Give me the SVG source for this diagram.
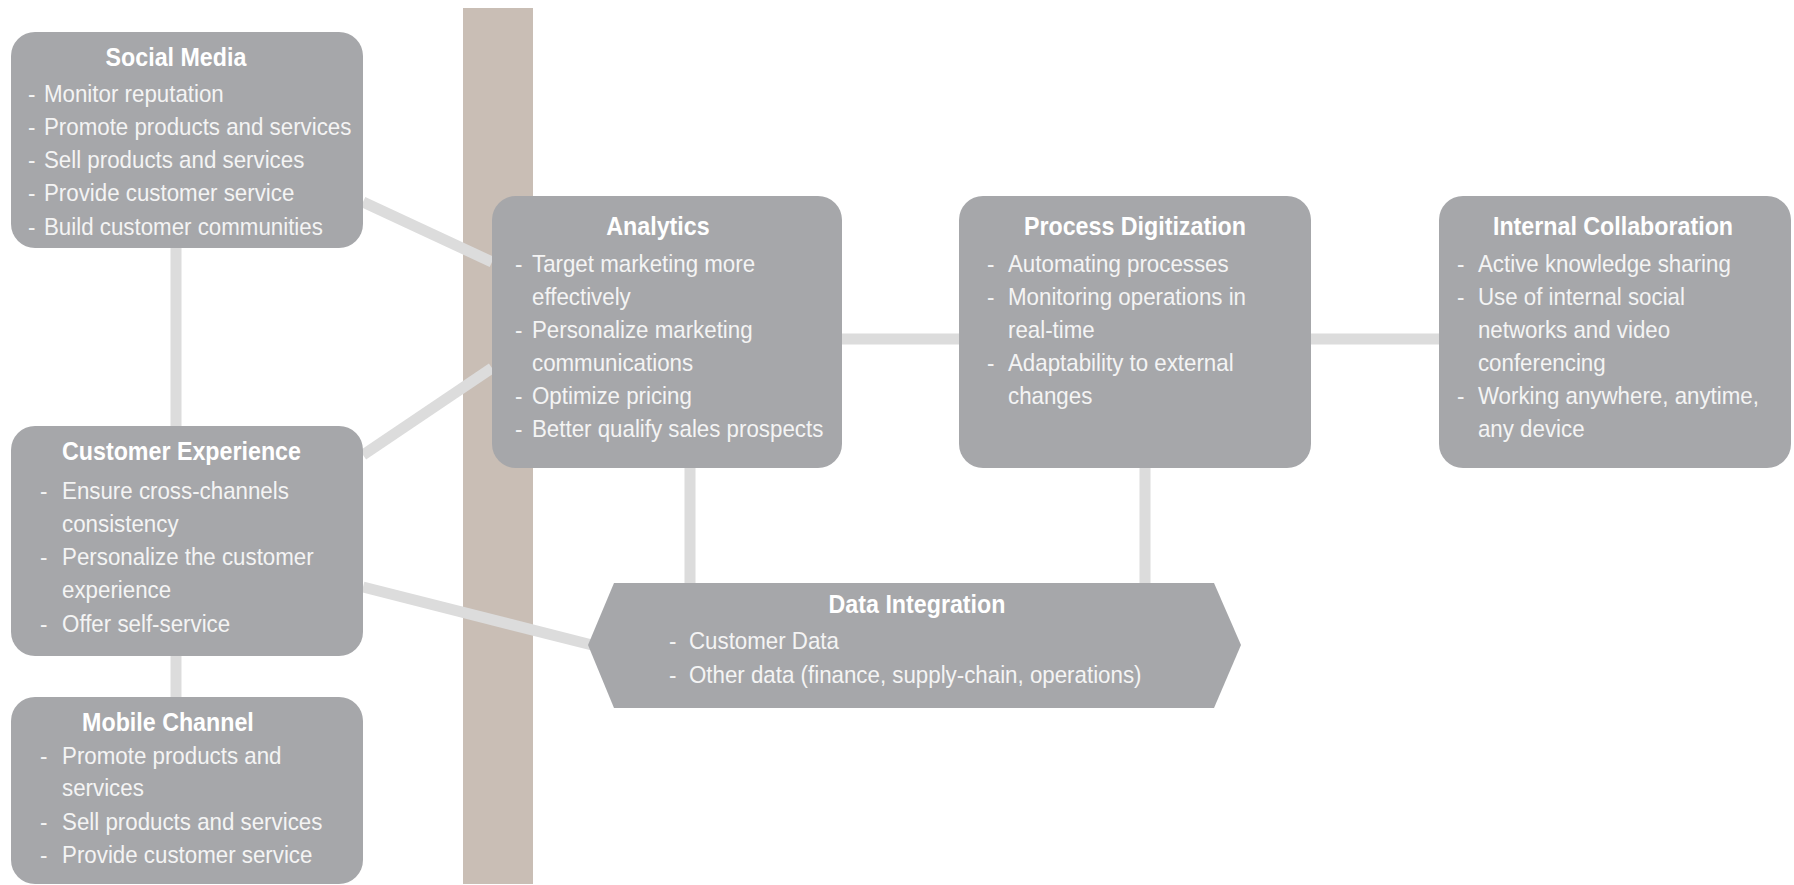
<svg xmlns="http://www.w3.org/2000/svg" width="1794" height="885" viewBox="0 0 1794 885">
<style>
.box{fill:#a6a7aa}
.t{font-family:"Liberation Sans",Arial,sans-serif;font-size:25px;font-weight:bold;fill:#ffffff}
.b{font-family:"Liberation Sans",Arial,sans-serif;font-size:24px;fill:#f4f4f4}
.c{stroke:#dcdcdc;stroke-width:11;fill:none}
</style>
<rect x="463" y="8" width="70" height="876" fill="#c9beb5"/>
<g id="connectors">
<line class="c" x1="363" y1="202" x2="492" y2="262"/>
<line class="c" x1="363" y1="455" x2="492" y2="368"/>
<line class="c" x1="363" y1="587" x2="592" y2="645"/>
<line class="c" x1="176" y1="247" x2="176" y2="426"/>
<line class="c" x1="176" y1="656" x2="176" y2="697"/>
<line class="c" x1="842" y1="339" x2="959" y2="339"/>
<line class="c" x1="1311" y1="339" x2="1439" y2="339"/>
<line class="c" x1="690" y1="468" x2="690" y2="583"/>
<line class="c" x1="1145" y1="468" x2="1145" y2="583"/>
</g>
<g id="social-media">
<rect class="box" x="11" y="32" width="352" height="216" rx="24"/>
<g transform="scale(0.93,1)">
<text class="t" x="189.2" y="66" text-anchor="middle">Social Media</text>
<text class="b" y="102"><tspan x="30.1">-</tspan><tspan x="47.3">Monitor reputation</tspan></text>
<text class="b" y="135"><tspan x="30.1">-</tspan><tspan x="47.3">Promote products and services</tspan></text>
<text class="b" y="168"><tspan x="30.1">-</tspan><tspan x="47.3">Sell products and services</tspan></text>
<text class="b" y="201"><tspan x="30.1">-</tspan><tspan x="47.3">Provide customer service</tspan></text>
<text class="b" y="235"><tspan x="30.1">-</tspan><tspan x="47.3">Build customer communities</tspan></text>
</g>
</g>
<g id="customer-experience">
<rect class="box" x="11" y="426" width="352" height="230" rx="24"/>
<g transform="scale(0.93,1)">
<text class="t" x="66.7" y="460">Customer Experience</text>
<text class="b" y="499"><tspan x="43">-</tspan><tspan x="66.7">Ensure cross-channels</tspan></text>
<text class="b" y="532"><tspan x="66.7">consistency</tspan></text>
<text class="b" y="565"><tspan x="43">-</tspan><tspan x="66.7">Personalize the customer</tspan></text>
<text class="b" y="598"><tspan x="66.7">experience</tspan></text>
<text class="b" y="632"><tspan x="43">-</tspan><tspan x="66.7">Offer self-service</tspan></text>
</g>
</g>
<g id="mobile-channel">
<rect class="box" x="11" y="697" width="352" height="187" rx="24"/>
<g transform="scale(0.93,1)">
<text class="t" x="180.6" y="731" text-anchor="middle">Mobile Channel</text>
<text class="b" y="764"><tspan x="43">-</tspan><tspan x="66.7">Promote products and</tspan></text>
<text class="b" y="796"><tspan x="66.7">services</tspan></text>
<text class="b" y="830"><tspan x="43">-</tspan><tspan x="66.7">Sell products and services</tspan></text>
<text class="b" y="863"><tspan x="43">-</tspan><tspan x="66.7">Provide customer service</tspan></text>
</g>
</g>
<g id="analytics">
<rect class="box" x="492" y="196" width="350" height="272" rx="24"/>
<g transform="translate(492,0) scale(0.93,1)">
<text class="t" x="178.5" y="235" text-anchor="middle">Analytics</text>
<text class="b" y="272"><tspan x="24.7">-</tspan><tspan x="43">Target marketing more</tspan></text>
<text class="b" y="305"><tspan x="43">effectively</tspan></text>
<text class="b" y="338"><tspan x="24.7">-</tspan><tspan x="43">Personalize marketing</tspan></text>
<text class="b" y="371"><tspan x="43">communications</tspan></text>
<text class="b" y="404"><tspan x="24.7">-</tspan><tspan x="43">Optimize pricing</tspan></text>
<text class="b" y="437"><tspan x="24.7">-</tspan><tspan x="43">Better qualify sales prospects</tspan></text>
</g>
</g>
<g id="process-digitization">
<rect class="box" x="959" y="196" width="352" height="272" rx="24"/>
<g transform="translate(959,0) scale(0.93,1)">
<text class="t" x="189.2" y="235" text-anchor="middle">Process Digitization</text>
<text class="b" y="272"><tspan x="30.1">-</tspan><tspan x="52.7">Automating processes</tspan></text>
<text class="b" y="305"><tspan x="30.1">-</tspan><tspan x="52.7">Monitoring operations in</tspan></text>
<text class="b" y="338"><tspan x="52.7">real-time</tspan></text>
<text class="b" y="371"><tspan x="30.1">-</tspan><tspan x="52.7">Adaptability to external</tspan></text>
<text class="b" y="404"><tspan x="52.7">changes</tspan></text>
</g>
</g>
<g id="internal-collaboration">
<rect class="box" x="1439" y="196" width="352" height="272" rx="24"/>
<g transform="translate(1439,0) scale(0.93,1)">
<text class="t" x="187.1" y="235" text-anchor="middle">Internal Collaboration</text>
<text class="b" y="272"><tspan x="19.4">-</tspan><tspan x="41.9">Active knowledge sharing</tspan></text>
<text class="b" y="305"><tspan x="19.4">-</tspan><tspan x="41.9">Use of internal social</tspan></text>
<text class="b" y="338"><tspan x="41.9">networks and video</tspan></text>
<text class="b" y="371"><tspan x="41.9">conferencing</tspan></text>
<text class="b" y="404"><tspan x="19.4">-</tspan><tspan x="41.9">Working anywhere, anytime,</tspan></text>
<text class="b" y="437"><tspan x="41.9">any device</tspan></text>
</g>
</g>
<g id="data-integration">
<polygon class="box" points="588,645 614,583 1214,583 1241,645 1214,708 614,708"/>
<g transform="translate(588,0) scale(0.93,1)">
<text class="t" x="353.8" y="613" text-anchor="middle">Data Integration</text>
<text class="b" y="649"><tspan x="87.1">-</tspan><tspan x="108.6">Customer Data</tspan></text>
<text class="b" y="683"><tspan x="87.1">-</tspan><tspan x="108.6">Other data (finance, supply-chain, operations)</tspan></text>
</g>
</g>
</svg>
